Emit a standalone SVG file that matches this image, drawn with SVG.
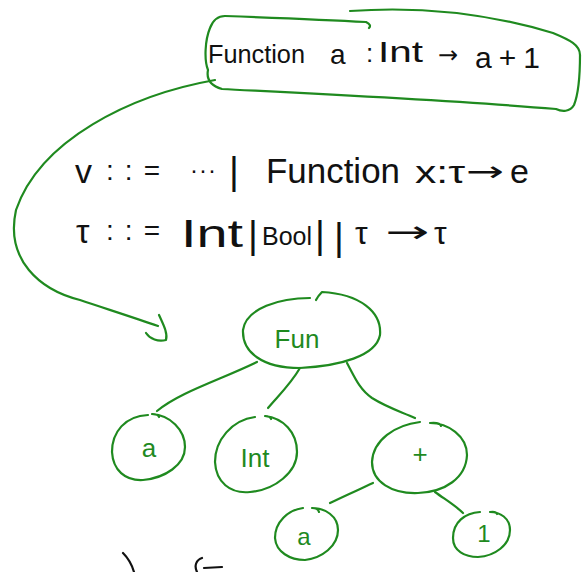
<svg xmlns="http://www.w3.org/2000/svg" width="587" height="572" viewBox="0 0 587 572">
<style>
.g{fill:none;stroke:#1f8a1f;stroke-width:2.2;stroke-linecap:round;stroke-linejoin:round}
.k{fill:none;stroke:#111;stroke-width:2.2;stroke-linecap:round}
.t{font-family:"Liberation Sans","DejaVu Sans",sans-serif;fill:#111}
.a{font-family:"DejaVu Sans",sans-serif;fill:#111}
.gt{font-family:"Liberation Sans","DejaVu Sans",sans-serif;fill:#1f8a1f;text-anchor:middle}
</style>
<rect width="587" height="572" fill="#fff"/>
<g id="lambda-box">
<path class="g" d="M225,16 C280,18 330,20 366,22 Q372,25 369,28"/>
<path class="g" d="M350,11 C420,6 490,14 553,33 C570,40 580,45 580,55 C580,75 578,95 574,105 C570,112 562,112 556,109 C450,100 300,93 222,89 C212,86 206,80 208,70 C204,60 205,40 210,28 C213,20 218,16 225,16"/>
<text class="t" x="208" y="63" font-size="26" textLength="97" lengthAdjust="spacingAndGlyphs">Function</text>
<text class="t" x="330" y="64" font-size="28">a</text>
<text class="t" x="366" y="62" font-size="26">:</text>
<text class="t" x="378" y="62" font-size="30" textLength="45" lengthAdjust="spacingAndGlyphs">Int</text>
<text class="a" x="438" y="63" font-size="24">→</text>
<text class="t" x="475" y="68" font-size="30" textLength="65">a+1</text>
</g>
<g id="grammar">
<text class="t" x="75" y="183" font-size="34">v</text>
<text class="t" x="106" y="180" font-size="28" textLength="54">::=</text>
<text class="t" x="190" y="178" font-size="24" textLength="26">···</text>
<text class="t" x="229" y="184" font-size="38">|</text>
<text class="t" x="266" y="183" font-size="35" textLength="134" lengthAdjust="spacingAndGlyphs">Function</text>
<text class="t" x="415" y="183" font-size="32" textLength="50" lengthAdjust="spacingAndGlyphs">x:τ</text>
<text class="a" x="466" y="181" font-size="28" textLength="38" lengthAdjust="spacingAndGlyphs">→</text>
<text class="t" x="510" y="183" font-size="34">e</text>
<text class="t" x="76" y="243" font-size="34">τ</text>
<text class="t" x="106" y="240" font-size="28" textLength="54">::=</text>
<text class="t" x="181" y="247" font-size="38" textLength="62" lengthAdjust="spacingAndGlyphs">Int</text>
<text class="t" x="248" y="248" font-size="38">|</text>
<text class="t" x="262" y="245" font-size="25">Bool</text>
<text class="t" x="315" y="248" font-size="38">|</text>
<text class="t" x="334" y="250" font-size="38">|</text>
<text class="t" x="355" y="244" font-size="32">τ</text>
<text class="a" x="385" y="242" font-size="30" textLength="44" lengthAdjust="spacingAndGlyphs">→</text>
<text class="t" x="434" y="244" font-size="32">τ</text>
</g>
<g id="connectors">
<path class="g" d="M215,80 C130,95 40,140 16,210 C5,260 40,290 80,300 C110,310 135,318 158,326"/>
<path class="g" d="M159,315 C163,324 168,333 166,340 C158,342 150,339 146,333"/>
<path class="g" d="M257,362 C220,380 180,392 157,411"/>
<path class="g" d="M300,368 C290,385 278,396 268,408"/>
<path class="g" d="M347,363 C355,378 360,390 372,398 C388,408 402,412 415,418"/>
<path class="g" d="M373,483 C358,490 344,496 330,503"/>
<path class="g" d="M435,492 C446,500 456,506 463,513"/>
</g>
<g id="node-fun">
<path class="g" d="M310,298 C280,298 246,308 243,330 C242,352 262,368 300,368 C340,366 376,356 380,335 C382,312 360,294 322,292 Q318,296 316,300"/>
<text class="gt" x="297" y="348" font-size="26">Fun</text>
</g>
<g id="node-a">
<path class="g" d="M148,415 C125,416 112,432 112,452 C113,470 125,481 143,480 C165,478 185,465 185,447 C185,430 170,415 152,414 Q158,414 159,417"/>
<text class="gt" x="149" y="457" font-size="26">a</text>
</g>
<g id="node-int">
<path class="g" d="M255,417 C232,420 215,440 215,462 C216,482 230,494 250,492 C275,490 297,472 297,452 C297,432 283,418 265,416 Q270,416 271,419"/>
<text class="gt" x="255" y="467" font-size="26">Int</text>
</g>
<g id="node-plus">
<path class="g" d="M420,422 C395,425 373,440 372,462 C372,482 392,494 418,493 C445,492 466,478 467,455 C467,436 448,423 430,423 Q440,422 441,426"/>
<text class="gt" x="420" y="463" font-size="26">+</text>
</g>
<g id="node-a2">
<path class="g" d="M303,508 C288,510 275,522 275,538 C276,552 290,560 305,560 C322,558 338,546 338,530 C338,516 325,508 312,508 Q318,508 319,512"/>
<text class="gt" x="304" y="545" font-size="24">a</text>
</g>
<g id="node-one">
<path class="g" d="M480,512 C465,513 453,522 453,538 C453,551 465,557 478,557 C495,556 510,545 510,530 C510,518 500,512 490,512 Q496,511 497,514"/>
<text class="gt" x="484" y="542" font-size="24">1</text>
</g>
<g id="cut-off-text">
<path class="k" d="M123,553 C128,558 132,565 134,572"/>
<path class="k" d="M197,572 C194,566 196,560 202,558"/>
<path class="k" d="M204,568 L222,567"/>
</g>
</svg>
